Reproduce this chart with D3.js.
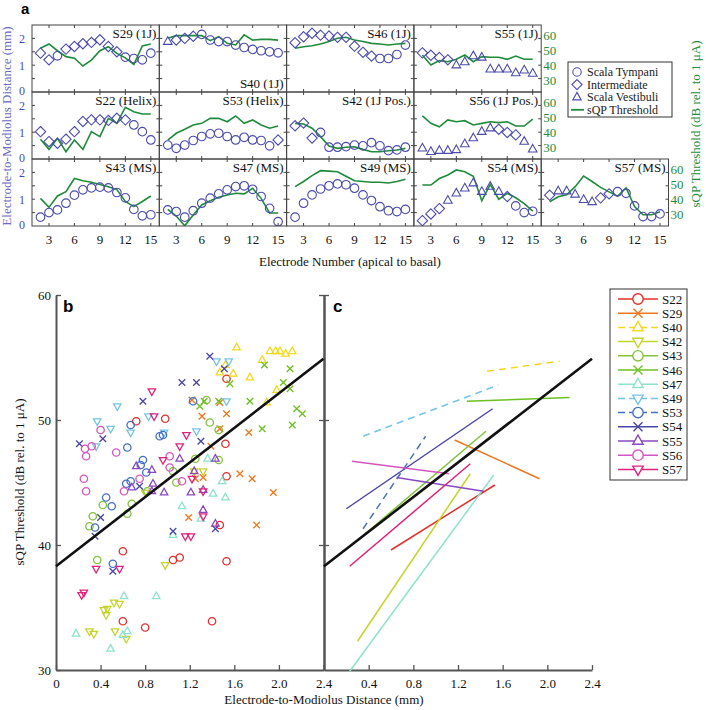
<!DOCTYPE html>
<html><head><meta charset="utf-8">
<script src="https://cdn.jsdelivr.net/npm/d3@7"></script>
<style>
body{margin:0;background:#fff}
svg{display:block}
text{font-family:"Liberation Serif","Times New Roman",serif}
</style>
</head><body>
<svg id="chart" width="706" height="710"></svg>
<script>
// ---------------- DATA ----------------
const electrodes = [2,3,4,5,6,7,8,9,10,11,12,13,14,15];
const electrodeTicks = [3,6,9,12,15];
const distTicks = [0,1,2];
const thrTicks = [30,40,50,60];

const panelOrder = ["S29","S40","S46","S55","S22","S53","S42","S56","S43","S47","S49","S54","S57"];
const panelTitles = ["S29 (1J)","S40 (1J)","S46 (1J)","S55 (1J)","S22 (Helix)","S53 (Helix)","S42 (1J Pos.)","S56 (1J Pos.)","S43 (MS)","S47 (MS)","S49 (MS)","S54 (MS)","S57 (MS)"];

// electrode-to-modiolus distance (mm), scala type (C tympani, D intermediate, T vestibuli), sQP threshold (dB)
const distS29 = [1.45,1.2,1.35,1.6,1.7,1.8,1.85,1.95,1.7,1.5,1.3,1.25,1.2,1.45];
const typeS29 = "DDCDDDDDDDCCCC";
const thrS29  = [51.5,54.4,49.8,45.8,44.7,39.5,43.5,49.8,52.5,48,45,40.5,53,54.4];

const distS40 = [1.88,1.94,2.0,2.08,2.15,1.94,1.88,1.88,1.75,1.66,1.59,1.54,1.5,1.46];
const typeS40 = "TDDDCCCCCCCCCC";
const thrS40  = [58.2,60,60,60,60,56.6,59.3,54.8,53.7,60.5,57,57.5,57.5,57];

const distS46 = [1.84,2.06,2.19,2.12,2.09,2.04,2.04,1.71,1.48,1.34,1.25,1.25,1.4,1.75];
const typeS46 = "DDDDDDDDDDCCCC";
const thrS46  = [51.5,52.5,53.2,54.4,56,58.2,58.9,57,56,54.8,54.4,53.7,54.4,54.8];

const distS55 = [1.46,1.37,1.29,1.2,1.0,1.12,1.34,1.29,0.85,0.85,0.85,0.71,0.81,0.69];
const typeS55 = "DDDDTTTTTTTTTT";
const thrS55  = [46.9,40.2,43.1,42.4,44,46.9,42.4,45.8,45.4,45.4,44,46.2,44,44];

const distS22 = [1.02,0.65,0.59,0.74,1.02,1.4,1.46,1.46,1.44,1.52,1.46,1.27,1.02,0.71];
const typeS22 = "DDDDDDDDDDDCCC";
const thrS22  = [35.2,28.4,35.9,26.8,34.7,28.4,40.4,37,49.4,46,56.9,53.9,52.3,52.3];

const distS53 = [0.52,0.4,0.52,0.69,0.84,0.94,0.96,0.84,0.71,0.81,0.71,0.69,0.49,0.71];
const typeS53 = "CCCCCCCCCCCCCD";
const thrS53  = [34.7,39.3,42,44.9,46,49.4,49.4,47.1,51,46,48.3,44.9,42.7,44.2];

const distS42 = [1.24,1.34,0.78,0.99,0.44,0.44,0.46,0.52,0.49,0.61,0.49,0.31,0.34,0.44];
const typeS42 = "DDDCCCCCCCCCCC";
const thrS42  = [46,45.6,42.7,37,30.7,29.1,29.8,30.2,28.4,26.8,26.8,27.5,28,29.1];

const distS56 = [0.4,0.27,0.31,0.31,0.34,0.56,0.78,1.02,1.15,1.11,0.99,0.9,0.65,0.36];
const typeS56 = "TTTTTTTTTDDDTT";
const thrS56  = [51,46,43.7,48.3,47.1,47.8,44.9,46,47.1,46.5,47.1,44.2,44.2,48.8];

const distS43 = [0.33,0.5,0.6,0.85,1.15,1.35,1.42,1.45,1.42,1.25,1.05,0.62,0.38,0.42];
const typeS43 = "CCCCCCCCCCCCCC";
const thrS43  = [40.6,34.5,42.2,45.1,54,52.5,51.5,50,48.5,46.5,38.5,35,38.5,42.2];

const distS47 = [0.6,0.54,0.33,0.57,0.85,1.04,1.2,1.35,1.47,1.5,1.37,1.1,0.66,0.16];
const typeS47 = "CCCCCCCCCCCCCC";
const thrS47  = [33.2,28.6,22,29.3,36.1,39,41.3,42.9,44,43.6,47.4,40.6,30.7,30.7];

const distS49 = [0.33,0.85,1.16,1.38,1.5,1.57,1.54,1.41,1.16,0.95,0.72,0.57,0.54,0.62];
const typeS49 = "CCCCCCCCCCCCCC";
const thrS49  = [48.5,52,56,59.3,59,58.6,55.5,52.5,52,51.5,51.5,51,52,53.5];

const distS54 = [0.2,0.45,0.65,0.95,1.22,1.41,1.6,1.28,1.47,1.28,1.1,0.75,0.5,0.55];
const typeS54 = "DDDTTTTTTTDCCC";
const thrS54  = [49.6,49.6,54,56.4,59.8,58.6,55.5,39,50,40,44,41,37,32];

const distS57 = [1.15,1.3,1.3,1.18,0.98,0.9,1.05,1.2,1.28,1.22,0.75,0.35,0.35,0.45];
const typeS57 = "DTTTTTDDCCCCCC";
const thrS57  = [38.3,41.7,43,48.5,55.7,52,48,45,42,47.6,35,29.5,29.5,31.6];

const legendALabels = ["Scala Tympani","Intermediate","Scala Vestibuli","sQP Threshold"];

// Panel b / c
const subjects = ["S22","S29","S40","S42","S43","S46","S47","S49","S53","S54","S55","S56","S57"];
const subjectColors = ["#e0302c","#f0761e","#f4d81e","#c4d42a","#82c23c","#6cc020","#8ee2cc","#74c4e6","#4670c4","#4a46a6","#8a48c0","#d456c2","#e0207a"];
const subjectShapes = ["circle","cross","triUp","triDown","circle","cross","triUp","triDown","circle","cross","triUp","circle","triDown"];

const ptsS22 = [[0.72,49.9],[0.98,50.1],[1.53,53.3],[1.52,48.1],[1.53,45.5],[1.47,41.6],[1.53,38.7],[1.05,38.8],[1.11,39.0],[0.60,39.5],[0.60,33.9],[0.80,33.4],[1.40,33.9]];
const ptsS29 = [[1.22,51.6],[1.31,50.3],[1.39,47.9],[1.47,51.4],[1.53,50.5],[1.73,49.0],[1.32,45.4],[1.25,45.3],[1.65,45.7],[1.76,45.3],[1.95,44.2],[1.19,42.2],[1.80,41.6],[1.47,49.3]];
const ptsS40 = [[1.47,53.8],[1.59,53.7],[1.62,55.8],[1.74,53.4],[1.85,54.8],[1.89,51.4],[1.92,55.5],[1.97,55.5],[2.01,55.5],[2.06,55.3],[2.12,55.5],[1.98,52.4],[1.52,54.4]];
const ptsS42 = [[1.32,45.9],[1.24,45.9],[0.80,44.2],[0.98,38.4],[0.43,34.8],[0.46,34.9],[0.45,34.4],[0.52,35.4],[0.57,35.3],[0.30,33.1],[0.34,32.9],[0.53,33.1],[0.63,32.5]];
const ptsS43 = [[1.35,51.6],[1.38,49.8],[1.46,49.2],[1.25,46.9],[1.46,46.8],[1.05,45.9],[1.08,45.0],[0.82,44.3],[0.33,42.3],[0.30,41.5],[0.42,43.2],[0.64,42.5],[0.68,43.3],[0.37,38.8]];
const ptsS46 = [[1.29,51.1],[1.33,51.5],[1.46,51.5],[1.74,51.5],[1.85,49.3],[1.87,54.4],[2.10,54.1],[2.12,49.6],[2.04,53.0],[2.10,52.5],[2.16,50.9],[2.21,50.5],[1.56,52.9]];
const ptsS47 = [[1.36,46.9],[1.49,45.1],[1.41,44.1],[1.52,43.8],[1.13,43.1],[1.30,42.1],[1.05,40.8],[0.90,35.9],[0.61,35.9],[0.18,32.9],[0.60,32.8],[0.64,33.1],[0.49,31.7]];
const ptsS49 = [[0.37,49.9],[0.36,47.9],[0.49,49.3],[0.55,51.1],[0.67,49.0],[0.83,50.3],[0.97,49.0],[1.26,49.1],[1.44,54.7],[1.55,54.7],[1.53,51.5]];
const ptsS53 = [[0.64,47.8],[0.67,49.6],[0.78,46.8],[0.93,48.7],[0.96,48.8],[0.76,46.4],[0.81,45.8],[0.35,41.4],[0.45,43.8],[0.50,43.1],[0.63,44.9],[0.67,45.1],[0.51,38.5],[1.23,51.5]];
const ptsS54 = [[0.21,48.1],[0.42,48.5],[0.78,51.5],[1.13,53.0],[1.26,53.0],[1.30,48.3],[1.38,55.1],[1.51,54.1],[0.40,42.2],[0.35,40.7],[0.75,44.7],[1.05,41.1],[1.43,41.3],[0.51,37.9]];
const ptsS55 = [[1.11,46.9],[1.43,46.9],[0.72,46.3],[0.86,46.0],[1.24,45.9],[0.87,44.9],[0.86,44.3],[0.97,44.2],[1.21,44.2],[1.32,44.4],[1.32,42.8],[1.43,41.7],[0.68,44.6]];
const ptsS56 = [[0.26,47.7],[0.27,47.1],[0.32,47.9],[0.40,49.2],[0.54,47.4],[1.02,47.1],[1.02,46.2],[1.13,45.1],[0.25,45.3],[0.27,44.3],[0.61,44.3],[0.75,45.3]];
const ptsS57 = [[0.86,52.3],[0.88,50.3],[0.96,46.8],[1.11,47.9],[1.17,48.8],[1.22,45.3],[1.32,42.3],[1.16,40.7],[1.21,40.7],[0.36,38.1],[0.57,38.1],[0.23,36.0],[0.25,36.2],[1.32,44.3]];

// per-subject fit lines (panel c): [[x1,y1],[x2,y2]]
const fitS22 = [[0.60,39.6],[1.53,44.8]];
const fitS29 = [[1.17,48.4],[1.93,45.3]];
const fitS40 = [[1.46,53.9],[2.11,54.7]];
const fitS42 = [[0.30,32.3],[1.31,45.7]];
const fitS43 = [[0.29,40.3],[1.45,49.1]];
const fitS46 = [[1.28,51.5],[2.20,51.8]];
const fitS47 = [[0.23,29.9],[1.52,45.6]];
const fitS49 = [[0.35,48.7],[1.56,52.8]];
const fitS53 = [[0.35,41.3],[0.91,48.7]];
const fitS54 = [[0.20,42.9],[1.51,50.9]];
const fitS55 = [[0.65,45.4],[1.43,44.3]];
const fitS56 = [[0.25,46.7],[1.12,45.7]];
const fitS57 = [[0.23,38.3],[1.31,46.5]];
const dashedFits = ["S40","S49","S53"];

const overallFit = [[0,38.3],[2.4,54.9]];
const bTicksX = [0,0.4,0.8,1.2,1.6,2.0,2.4];
const cTicksX = [0.4,0.8,1.2,1.6,2.0,2.4];
const bTicksY = [30,40,50,60];

// ---------------- DRAWING ----------------
const aData = {
  S29:[distS29,typeS29,thrS29], S40:[distS40,typeS40,thrS40], S46:[distS46,typeS46,thrS46], S55:[distS55,typeS55,thrS55],
  S22:[distS22,typeS22,thrS22], S53:[distS53,typeS53,thrS53], S42:[distS42,typeS42,thrS42], S56:[distS56,typeS56,thrS56],
  S43:[distS43,typeS43,thrS43], S47:[distS47,typeS47,thrS47], S49:[distS49,typeS49,thrS49], S54:[distS54,typeS54,thrS54], S57:[distS57,typeS57,thrS57]
};
const bData = {S22:ptsS22,S29:ptsS29,S40:ptsS40,S42:ptsS42,S43:ptsS43,S46:ptsS46,S47:ptsS47,S49:ptsS49,S53:ptsS53,S54:ptsS54,S55:ptsS55,S56:ptsS56,S57:ptsS57};
const cData = {S22:fitS22,S29:fitS29,S40:fitS40,S42:fitS42,S43:fitS43,S46:fitS46,S47:fitS47,S49:fitS49,S53:fitS53,S54:fitS54,S55:fitS55,S56:fitS56,S57:fitS57};

const svg = d3.select("#chart");
const BLUE = "#4b4bad", GREEN = "#1f8b3b", BORDER = "#444";

function shapePath(type, s){
  if(type==="circle") return `M${-s},0A${s},${s} 0 1,0 ${s},0A${s},${s} 0 1,0 ${-s},0Z`;
  if(type==="cross") return `M${-s},${-s}L${s},${s}M${-s},${s}L${s},${-s}`;
  if(type==="diamond") { const d=s*1.2; return `M0,${-d}L${d},0L0,${d}L${-d},0Z`; }
  if(type==="triUp") { const h=s*1.15; return `M0,${-h}L${s},${h*0.55}L${-s},${h*0.55}Z`; }
  if(type==="triDown") { const h=s*1.15; return `M0,${h}L${s},${-h*0.55}L${-s},${-h*0.55}Z`; }
}
const typeShape = {C:"circle", D:"diamond", T:"triUp"};

// ----- panel a -----
const aLeft = 32, aTop = 25, pw = 127.3, ph = 67;
const xA = d3.scaleLinear().domain([1,16]).range([0,pw]);
const yA = d3.scaleLinear().domain([0,2.5]).range([ph,0]);
const yT = d3.scaleLinear().domain([21.9,67.2]).range([ph,0]);

svg.append("text").attr("x",21).attr("y",14).text("a")
  .style("font-family","Liberation Sans, Arial, sans-serif").style("font-weight","bold").style("font-size","15px");

panelOrder.forEach((name,i)=>{
  const row = i<4?0:(i<8?1:2);
  const col = i<8? i%4 : i-8;
  const lastInRow = (i===3||i===7||i===12);
  const g = svg.append("g").attr("transform",`translate(${aLeft+col*pw},${aTop+row*ph})`);
  const clipId = "clip"+name;
  g.append("clipPath").attr("id",clipId).append("rect").attr("width",pw).attr("height",ph);
  const [dist,type,thr] = aData[name];
  const gc = g.append("g").attr("clip-path",`url(#${clipId})`);
  gc.append("path").datum(electrodes)
    .attr("d", d3.line().x(e=>xA(e)).y((e,k)=>yT(thr[k])))
    .attr("fill","none").attr("stroke",GREEN).attr("stroke-width",1.6);
  gc.selectAll("path.m").data(electrodes).join("path").attr("class","m")
    .attr("transform",(e,k)=>`translate(${xA(e)},${yA(dist[k])})`)
    .attr("d",(e,k)=>shapePath(typeShape[type[k]],4.3))
    .attr("fill","none").attr("stroke",BLUE).attr("stroke-width",1.1);
  g.append("rect").attr("width",pw).attr("height",ph).attr("fill","none").attr("stroke",BORDER).attr("stroke-width",1);
  const tk = g.append("g").attr("stroke",BORDER).attr("stroke-width",1);
  electrodeTicks.forEach(t=>{
    tk.append("line").attr("x1",xA(t)).attr("x2",xA(t)).attr("y1",ph).attr("y2",ph-3);
    tk.append("line").attr("x1",xA(t)).attr("x2",xA(t)).attr("y1",0).attr("y2",3);
  });
  [0.5,1,1.5,2].forEach(t=>{
    tk.append("line").attr("x1",0).attr("x2",3).attr("y1",yA(t)).attr("y2",yA(t));
    tk.append("line").attr("x1",pw).attr("x2",pw-3).attr("y1",yA(t)).attr("y2",yA(t));
  });
  const bottomTitle = name==="S40";
  g.append("text").attr("x",pw-3).attr("y",bottomTitle?ph-4:13).attr("text-anchor","end")
    .style("font-size","13px").attr("fill","#111").text(panelTitles[i]);
  if(col===0){
    distTicks.forEach(t=>{
      g.append("text").attr("x",-7).attr("y",yA(t)+(t===0?2.5:4.5)).attr("text-anchor","end")
        .style("font-size","12px").attr("fill",BLUE).text(t);
    });
  }
  if(lastInRow){
    thrTicks.forEach(t=>{
      g.append("text").attr("x",pw+2).attr("y",yT(t)+4.5).attr("text-anchor","start")
        .style("font-size","13px").attr("fill",GREEN).text(t);
    });
  }
  if(row===2){
    electrodeTicks.forEach(t=>{
      g.append("text").attr("x",xA(t)).attr("y",ph+18).attr("text-anchor","middle")
        .style("font-size","13px").attr("fill","#111").text(t);
    });
  }
});

svg.append("text").attr("transform","translate(11,126) rotate(-90)").attr("text-anchor","middle")
  .style("font-size","13px").attr("fill","#6a6ac4").text("Electrode-to-Modiolus Distance (mm)");
svg.append("text").attr("transform","translate(700,124) rotate(-90)").attr("text-anchor","middle")
  .style("font-size","13px").attr("fill",GREEN).text("sQP Threshold (dB rel. to 1 μA)");
svg.append("text").attr("x",350).attr("y",266).attr("text-anchor","middle")
  .style("font-size","13px").attr("fill","#111").text("Electrode Number (apical to basal)");

// legend a
const la = svg.append("g").attr("transform","translate(568,62)");
la.append("rect").attr("width",104).attr("height",55).attr("fill","#fff").attr("stroke","#333");
legendALabels.forEach((lab,k)=>{
  const y = 10 + k*12.6;
  if(k<3){
    la.append("path").attr("transform",`translate(9,${y})`).attr("d",shapePath(["circle","diamond","triUp"][k],4.2))
      .attr("fill","none").attr("stroke",BLUE).attr("stroke-width",1.1);
  } else {
    la.append("line").attr("x1",3).attr("x2",16).attr("y1",y).attr("y2",y).attr("stroke",GREEN).attr("stroke-width",1.8);
  }
  la.append("text").attr("x",19).attr("y",y+4).style("font-size","12px").attr("fill","#222").text(lab);
});

// ----- panel b & c -----
const xB = d3.scaleLinear().domain([0,2.4]).range([56,323.5]);
const xC = d3.scaleLinear().domain([0,2.4]).range([324,592]);
const yB = d3.scaleLinear().domain([30,60]).range([670,295]);

function styleAxis(sel){
  sel.select(".domain").attr("stroke","#555").attr("stroke-width",2);
  sel.selectAll(".tick line").attr("stroke","#555").attr("stroke-width",1.3);
  sel.selectAll(".tick text").style("font-family","Liberation Serif, Times New Roman, serif").style("font-size","13px").attr("fill","#111");
}
const axB = svg.append("g").attr("transform","translate(0,670)")
  .call(d3.axisBottom(xB).tickValues(bTicksX).tickSize(-5).tickSizeOuter(0).tickPadding(9))
  .call(styleAxis);
axB.selectAll(".tick text").text(d=>d===0?"0":d.toFixed(1));
const axC = svg.append("g").attr("transform","translate(0,670)")
  .call(d3.axisBottom(xC).tickValues(cTicksX).tickSize(-5).tickSizeOuter(0).tickPadding(9).tickFormat(d=>d.toFixed(1)))
  .call(styleAxis);
const ayB = svg.append("g").attr("transform","translate(56,0)")
  .call(d3.axisLeft(yB).tickValues(bTicksY).tickSize(-5).tickSizeOuter(0).tickPadding(5))
  .call(styleAxis);
const ayC1 = svg.append("g").attr("transform","translate(324,0)")
  .call(d3.axisLeft(yB).tickValues([40,50,60]).tickSize(-5).tickSizeOuter(0).tickFormat(""))
  .call(styleAxis);
const ayC2 = svg.append("g").attr("transform","translate(324,0)")
  .call(d3.axisLeft(yB).tickValues([40,50,60]).tickSize(5).tickSizeOuter(0).tickFormat(""))
  .call(styleAxis);

// scatter b
subjects.forEach((s,k)=>{
  svg.append("g").selectAll("path").data(bData[s]).join("path")
    .attr("transform",d=>`translate(${xB(d[0])},${yB(d[1])})`)
    .attr("d",shapePath(subjectShapes[k], subjectShapes[k]==="cross"?3.3:3.7))
    .attr("fill","none").attr("stroke",subjectColors[k]).attr("stroke-width",1.3);
});
const lineB = d3.line().x(d=>xB(d[0])).y(d=>yB(d[1]));
const lineC = d3.line().x(d=>xC(d[0])).y(d=>yB(d[1]));
svg.append("path").datum(overallFit).attr("d",lineB).attr("stroke","#111").attr("stroke-width",2.6).attr("fill","none");

subjects.forEach((s,k)=>{
  svg.append("path").datum(cData[s]).attr("d",lineC).attr("fill","none")
    .attr("stroke",subjectColors[k]).attr("stroke-width",1.5)
    .attr("stroke-dasharray",dashedFits.includes(s)?"7,5":null);
});
svg.append("path").datum(overallFit).attr("d",lineC).attr("stroke","#111").attr("stroke-width",2.6).attr("fill","none");

svg.append("text").attr("x",63).attr("y",312).text("b")
  .style("font-family","Liberation Sans, Arial, sans-serif").style("font-weight","bold").style("font-size","17px");
svg.append("text").attr("x",333).attr("y",312).text("c")
  .style("font-family","Liberation Sans, Arial, sans-serif").style("font-weight","bold").style("font-size","17px");

svg.append("text").attr("transform","translate(24,482) rotate(-90)").attr("text-anchor","middle")
  .style("font-size","13px").attr("fill","#111").text("sQP Threshold (dB rel. to 1 μA)");
svg.append("text").attr("x",324).attr("y",704).attr("text-anchor","middle")
  .style("font-size","13px").attr("fill","#111").text("Electrode-to-Modiolus Distance (mm)");

// legend c
const lc = svg.append("g").attr("transform","translate(610,289)");
lc.append("rect").attr("width",77).attr("height",191).attr("fill","#fff").attr("stroke","#333");
subjects.forEach((s,k)=>{
  const y = 10 + k*14.2;
  lc.append("line").attr("x1",8).attr("x2",48).attr("y1",y).attr("y2",y)
    .attr("stroke",subjectColors[k]).attr("stroke-width",1.5)
    .attr("stroke-dasharray",dashedFits.includes(s)?"7,4":null);
  lc.append("path").attr("transform",`translate(28,${y})`).attr("d",shapePath(subjectShapes[k], subjectShapes[k]==="cross"?4.5:5.2))
    .attr("fill","#fff").attr("stroke",subjectColors[k]).attr("stroke-width",1.4);
  lc.append("text").attr("x",52).attr("y",y+4.5).style("font-size","13px").attr("fill","#111").text(s);
});
</script>
</body></html>
